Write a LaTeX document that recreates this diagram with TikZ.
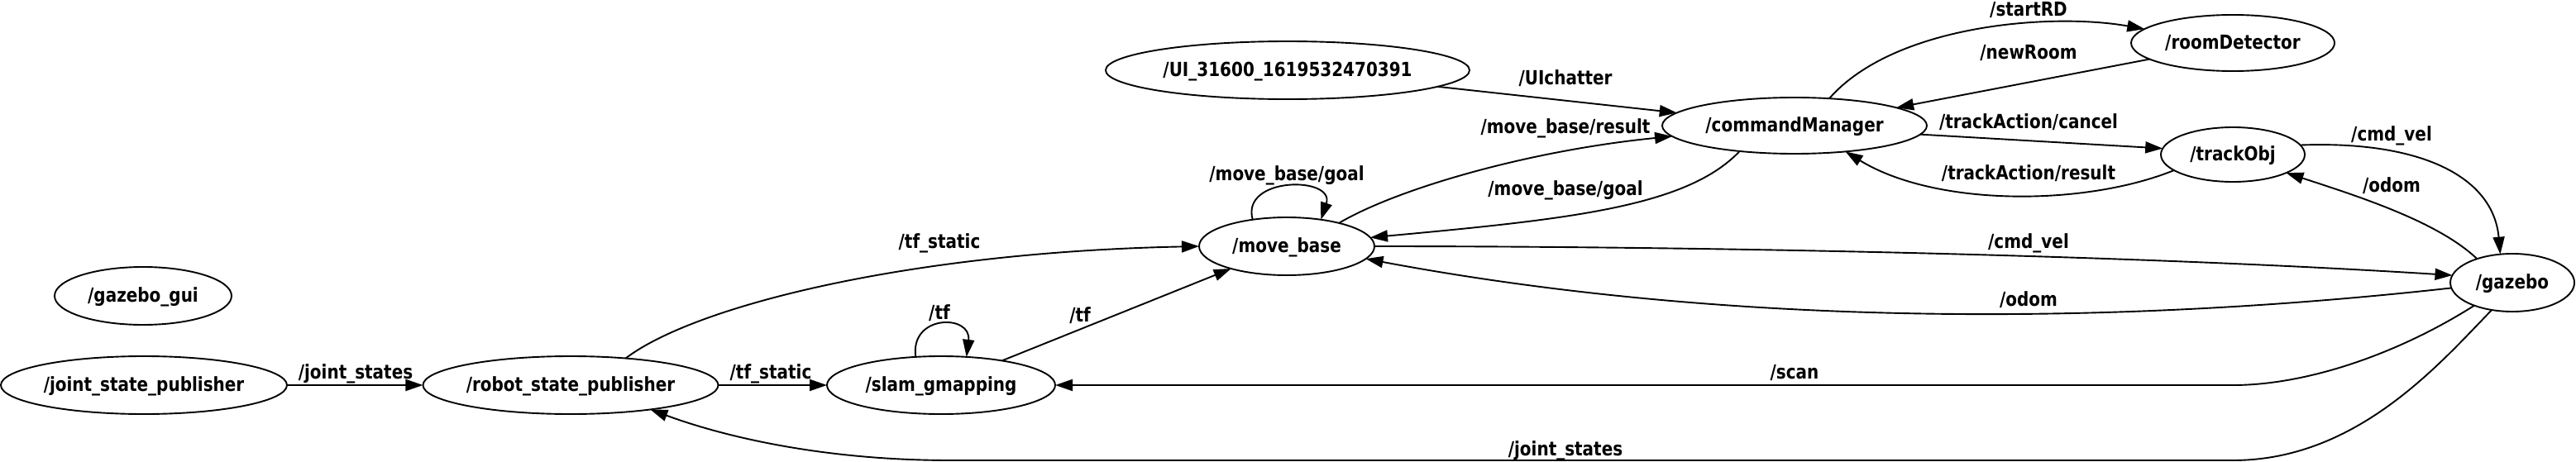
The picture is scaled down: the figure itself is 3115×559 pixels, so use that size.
\documentclass[tikz,border=0pt]{standalone}
\usepackage{fontspec}
\setmainfont{DejaVu Sans}[FakeStretch=0.85]
\usetikzlibrary{shapes.geometric,arrows.meta}
\begin{document}
\begin{tikzpicture}[x=1pt,y=-1pt,
  font=\fontsize{23.5}{28}\selectfont\bfseries,
  nd/.style={draw, ellipse, line width=1.9pt, inner sep=0pt, outer sep=0pt, text height=18pt, text depth=3pt},
  lbl/.style={inner sep=0pt, text height=18pt, text depth=4pt},
  edge/.style={line width=1.9pt, -{Triangle[length=21pt,width=14pt]}}]
\useasboundingbox (0,0) rectangle (3115,559);
% nodes
\node[nd, minimum width=214pt, minimum height=70pt] (gui) at (173,358) {/gazebo\_gui};
\node[nd, minimum width=346pt, minimum height=70pt] (jsp) at (174,466) {/joint\_state\_publisher};
\node[nd, minimum width=356pt, minimum height=70pt] (rsp) at (690,466) {/robot\_state\_publisher};
\node[nd, minimum width=276pt, minimum height=70pt] (slam) at (1138,466) {/slam\_gmapping};
\node[nd, minimum width=212pt, minimum height=70pt] (mb) at (1556,298) {/move\_base};
\node[nd, minimum width=440pt, minimum height=70pt] (ui) at (1557,85) {/UI\_31600\_1619532470391};
\node[nd, minimum width=320pt, minimum height=68pt] (cm) at (2170,152) {/commandManager};
\node[nd, minimum width=246pt, minimum height=68pt] (rd) at (2700,52) {/roomDetector};
\node[nd, minimum width=174pt, minimum height=66pt] (to) at (2700,187) {/trackObj};
\node[nd, minimum width=150pt, minimum height=70pt] (gz) at (3038,342) {/gazebo};
% edges
\draw[edge] (jsp) -- (rsp);
\draw[edge] (rsp) -- (slam);
\draw[edge] (rsp.26) .. controls (840,370) and (1100,305) .. (mb.180);
\draw[edge] (mb.142) .. controls (1500,213) and (1615,213) .. (mb.38);
\draw[edge] (slam.132) .. controls (1100,380) and (1175,380) .. (slam.48);
\draw[edge] (slam) -- (mb);
\draw[edge] (ui) -- (cm);
\draw[edge] (mb.24) .. controls (1690,228) and (1850,182) .. (cm.185);
\draw[edge] (cm.205) .. controls (2040,250) and (1900,265) .. (mb.6);
\draw[edge] (cm.38) .. controls (2290,30) and (2480,15) .. (rd.171);
\draw[edge] (rd.191) -- (cm.10);
\draw[edge] (cm.356) -- (to.175);
\draw[edge] (to.195) .. controls (2520,250) and (2340,250) .. (cm.333);
\draw[edge] (to.8) .. controls (2930,170) and (3015,215) .. (gz.113);
\draw[edge] (gz.146) .. controls (2950,270) and (2860,240) .. (to.341);
\draw[edge] (mb.0) .. controls (2100,298) and (2600,310) .. (gz.173);
\draw[edge] (gz.185) .. controls (2500,400) and (2050,388) .. (mb.351);
\draw[edge] (gz.211) .. controls (2900,428) and (2790,466) .. (2700,466) -- (slam.0);
\draw[edge] (gz.233) .. controls (2950,440) and (2850,557) .. (2700,557) -- (1150,557) .. controls (1000,557) and (880,530) .. (rsp.343);
% labels
\node[lbl] (l1) at (430,451) {/joint\_states};
\node[lbl] (l2) at (932,451) {/tf\_static};
\node[lbl] (l3) at (1136,293) {/tf\_static};
\node[lbl] (l4) at (1136,379) {/tf};
\node[lbl] (l5) at (1306,382) {/tf};
\node[lbl] (l6) at (1556,211) {/move\_base/goal};
\node[lbl] (l7) at (1893,96) {/UIchatter};
\node[lbl] (l8) at (1893,154) {/move\_base/result};
\node[lbl] (l9) at (1893,229) {/move\_base/goal};
\node[lbl] (l10) at (2453,13) {/startRD};
\node[lbl] (l11) at (2453,65) {/newRoom};
\node[lbl] (l12) at (2453,149) {/trackAction/cancel};
\node[lbl] (l13) at (2453,210) {/trackAction/result};
\node[lbl] (l14) at (2892,163) {/cmd\_vel};
\node[lbl] (l15) at (2892,225) {/odom};
\node[lbl] (l16) at (2453,293) {/cmd\_vel};
\node[lbl] (l17) at (2453,363) {/odom};
\node[lbl] (l18) at (2170,451) {/scan};
\node[lbl] (l19) at (1893,544) {/joint\_states};
\end{tikzpicture}
\end{document}
